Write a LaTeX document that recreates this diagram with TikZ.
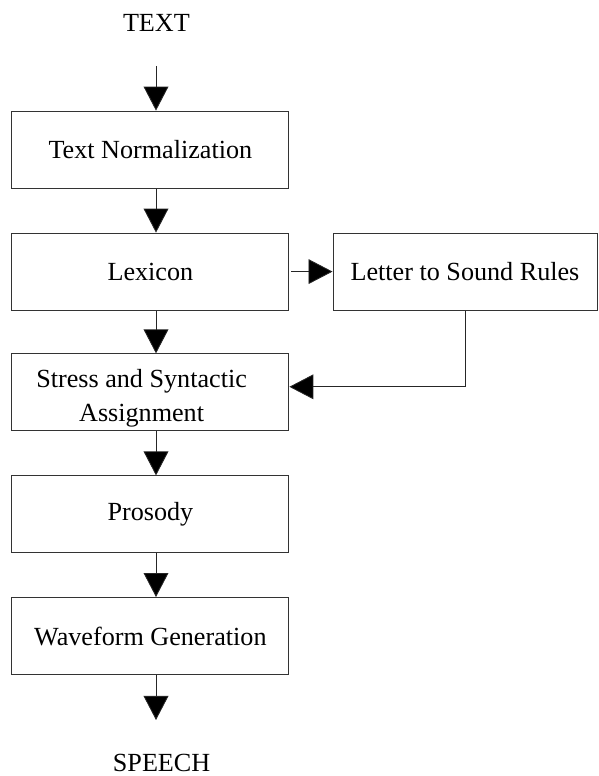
\documentclass[tikz,border=0pt]{standalone}
\usepackage{fontspec}
\setmainfont{Liberation Serif}
\usetikzlibrary{arrows.meta, positioning}

\tikzset{
  stage/.style={draw=black!80, line width=0.7pt, minimum width=6.925cm, minimum height=1.925cm,
                inner sep=2pt, align=center, font=\fontsize{18.6}{24.5}\selectfont},
  flow/.style={-{Triangle[length=6mm, width=6.2mm, fill=black]}, line width=0.6pt, draw=black!85},
  io/.style={inner sep=0pt, font=\fontsize{18.6}{24.5}\selectfont}
}

\begin{document}
\begin{tikzpicture}
  \useasboundingbox (0,0) rectangle (14.95,19.4);

  % input and output
  \node[io] (intext)    at (3.91,18.83) {TEXT};
  \node[io] (outspeech) at (4.04,0.33)  {SPEECH};
  \coordinate (instart) at (3.9,17.75);
  \coordinate (outend)  at (3.9,1.4);

  % main chain of stages
  \node[stage] (norm)   at (3.76,15.66) {Text Normalization};
  \node[stage] (lex)    at (3.76,12.61) {Lexicon};
  \node[stage] (stress) at (3.76,9.59)  {};
  \node[io, align=center] (stresstxt) at ([xshift=-2.2mm,yshift=-1.5mm]stress.center)
    {Stress and Syntactic\\Assignment};
  \node[stage] (pros)   at (3.76,6.54)  {Prosody};
  \node[stage] (wave)   at (3.76,3.50)  {Waveform Generation};

  % side branch
  \node[stage, minimum width=6.6cm] (letter) at (11.625,12.61) {Letter to Sound Rules};

  % arrows down the chain
  \draw[flow] (instart) -- ([xshift=1.4mm]norm.north);
  \draw[flow] ([xshift=1.4mm]norm.south)   -- ([xshift=1.4mm]lex.north);
  \draw[flow] ([xshift=1.4mm]lex.south)    -- ([xshift=1.4mm]stress.north);
  \draw[flow] ([xshift=1.4mm]stress.south) -- ([xshift=1.4mm]pros.north);
  \draw[flow] ([xshift=1.4mm]pros.south)   -- ([xshift=1.4mm]wave.north);
  \draw[flow] ([xshift=1.4mm]wave.south)   -- (outend);

  % lexicon misses go through the rules and back
  \draw[flow] ([xshift=0.5mm]lex.east) -- (letter.west);
  \draw[flow] (letter.south) |- ([yshift=1.4mm]stress.east);
\end{tikzpicture}
\end{document}
